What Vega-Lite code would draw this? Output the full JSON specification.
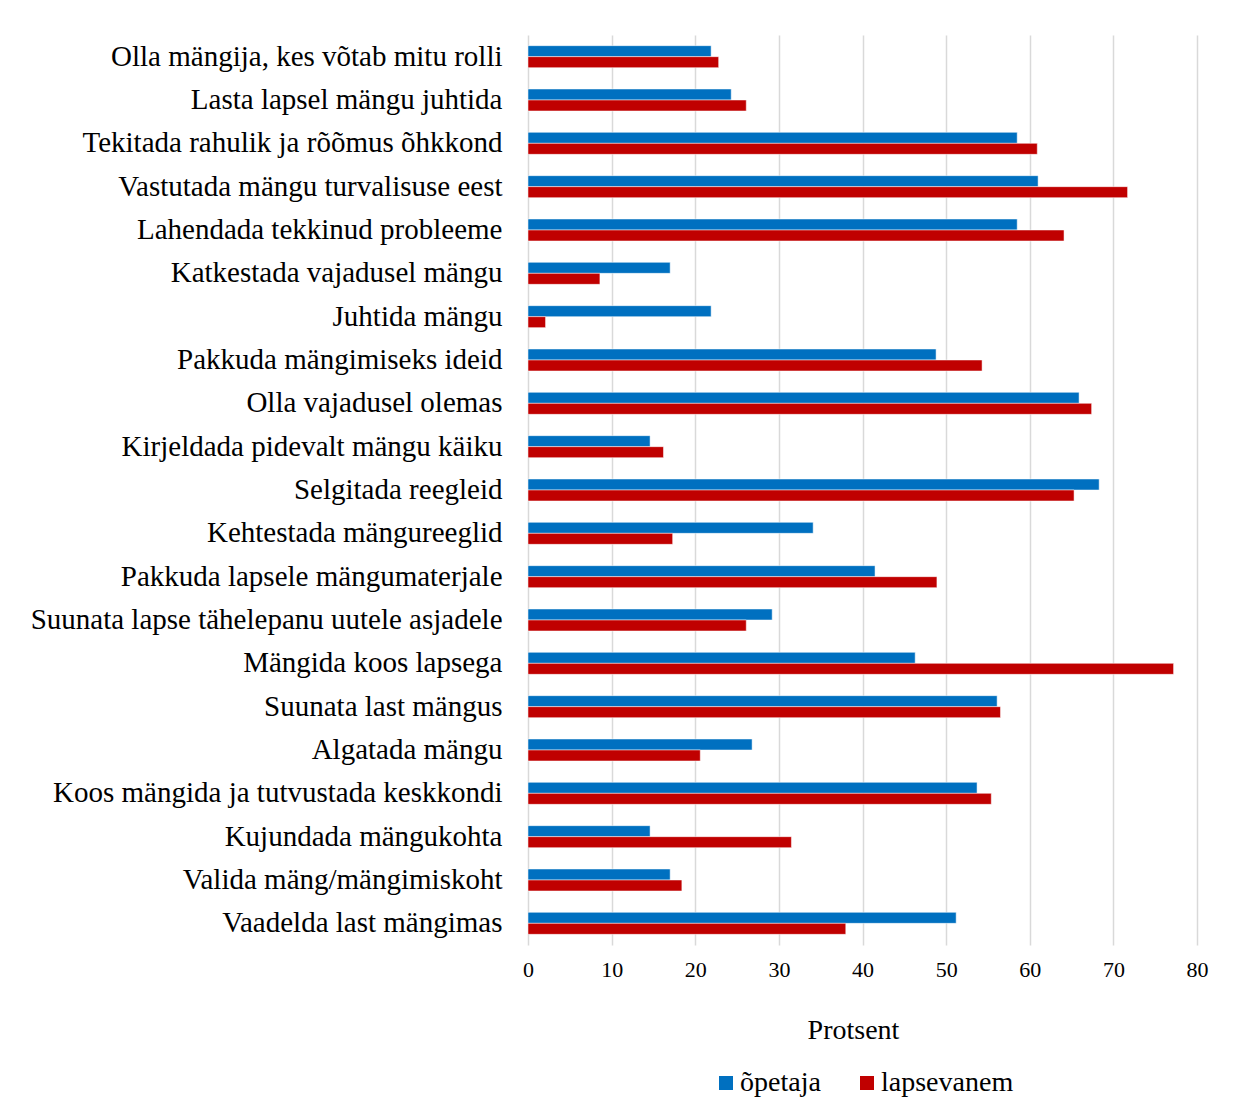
{
  "$schema": "https://vega.github.io/schema/vega-lite/v6.json",
  "width": 669,
  "height": 910,
  "padding": {"left": 30, "top": 35, "right": 40, "bottom": 10},
  "autosize": {"type": "pad"},
  "background": "white",
  "config": {
    "font": "Liberation Serif",
    "view": {"stroke": null}
  },
  "data": {
    "values": [
      {"k": "Olla mängija, kes võtab mitu rolli", "g": "õpetaja", "v": 21.9},
      {"k": "Olla mängija, kes võtab mitu rolli", "g": "lapsevanem", "v": 22.8},
      {"k": "Lasta lapsel mängu juhtida", "g": "õpetaja", "v": 24.3},
      {"k": "Lasta lapsel mängu juhtida", "g": "lapsevanem", "v": 26.1},
      {"k": "Tekitada rahulik ja rõõmus õhkkond", "g": "õpetaja", "v": 58.5},
      {"k": "Tekitada rahulik ja rõõmus õhkkond", "g": "lapsevanem", "v": 60.9},
      {"k": "Vastutada mängu turvalisuse eest", "g": "õpetaja", "v": 61.0},
      {"k": "Vastutada mängu turvalisuse eest", "g": "lapsevanem", "v": 71.7},
      {"k": "Lahendada tekkinud probleeme", "g": "õpetaja", "v": 58.5},
      {"k": "Lahendada tekkinud probleeme", "g": "lapsevanem", "v": 64.1},
      {"k": "Katkestada vajadusel mängu", "g": "õpetaja", "v": 17.0},
      {"k": "Katkestada vajadusel mängu", "g": "lapsevanem", "v": 8.6},
      {"k": "Juhtida mängu", "g": "õpetaja", "v": 21.9},
      {"k": "Juhtida mängu", "g": "lapsevanem", "v": 2.1},
      {"k": "Pakkuda mängimiseks ideid", "g": "õpetaja", "v": 48.8},
      {"k": "Pakkuda mängimiseks ideid", "g": "lapsevanem", "v": 54.3},
      {"k": "Olla vajadusel olemas", "g": "õpetaja", "v": 65.9},
      {"k": "Olla vajadusel olemas", "g": "lapsevanem", "v": 67.4},
      {"k": "Kirjeldada pidevalt mängu käiku", "g": "õpetaja", "v": 14.6},
      {"k": "Kirjeldada pidevalt mängu käiku", "g": "lapsevanem", "v": 16.2},
      {"k": "Selgitada reegleid", "g": "õpetaja", "v": 68.3},
      {"k": "Selgitada reegleid", "g": "lapsevanem", "v": 65.3},
      {"k": "Kehtestada mängureeglid", "g": "õpetaja", "v": 34.1},
      {"k": "Kehtestada mängureeglid", "g": "lapsevanem", "v": 17.3},
      {"k": "Pakkuda lapsele mängumaterjale", "g": "õpetaja", "v": 41.5},
      {"k": "Pakkuda lapsele mängumaterjale", "g": "lapsevanem", "v": 48.9},
      {"k": "Suunata lapse tähelepanu uutele asjadele", "g": "õpetaja", "v": 29.2},
      {"k": "Suunata lapse tähelepanu uutele asjadele", "g": "lapsevanem", "v": 26.1},
      {"k": "Mängida koos lapsega", "g": "õpetaja", "v": 46.3},
      {"k": "Mängida koos lapsega", "g": "lapsevanem", "v": 77.2},
      {"k": "Suunata last mängus", "g": "õpetaja", "v": 56.1},
      {"k": "Suunata last mängus", "g": "lapsevanem", "v": 56.5},
      {"k": "Algatada mängu", "g": "õpetaja", "v": 26.8},
      {"k": "Algatada mängu", "g": "lapsevanem", "v": 20.6},
      {"k": "Koos mängida ja tutvustada keskkondi", "g": "õpetaja", "v": 53.7},
      {"k": "Koos mängida ja tutvustada keskkondi", "g": "lapsevanem", "v": 55.4},
      {"k": "Kujundada mängukohta", "g": "õpetaja", "v": 14.6},
      {"k": "Kujundada mängukohta", "g": "lapsevanem", "v": 31.5},
      {"k": "Valida mäng/mängimiskoht", "g": "õpetaja", "v": 17.0},
      {"k": "Valida mäng/mängimiskoht", "g": "lapsevanem", "v": 18.4},
      {"k": "Vaadelda last mängimas", "g": "õpetaja", "v": 51.2},
      {"k": "Vaadelda last mängimas", "g": "lapsevanem", "v": 38.0}
    ]
  },
  "mark": {"type": "bar", "stroke": "white", "strokeWidth": 0.5},
  "encoding": {
    "y": {
      "field": "k",
      "type": "nominal",
      "sort": null,
      "scale": {"paddingInner": 0, "paddingOuter": 0},
      "axis": {
        "title": null,
        "domain": false,
        "ticks": false,
        "labelFontSize": 29,
        "labelColor": "#000000",
        "labelPadding": 26,
        "labelLimit": 700
      }
    },
    "yOffset": {
      "field": "g",
      "type": "nominal",
      "sort": ["õpetaja", "lapsevanem"],
      "scale": {"paddingInner": 0, "paddingOuter": 0.97}
    },
    "x": {
      "field": "v",
      "type": "quantitative",
      "scale": {"domain": [0, 80], "nice": false},
      "axis": {
        "title": "Protsent",
        "titleFontSize": 28,
        "titleFontWeight": "normal",
        "titleColor": "#000000",
        "titlePadding": 36,
        "titleX": 325,
        "values": [0, 10, 20, 30, 40, 50, 60, 70, 80],
        "domain": false,
        "ticks": false,
        "grid": true,
        "gridColor": "#d9d9d9",
        "gridWidth": 1.5,
        "labelFontSize": 22,
        "labelColor": "#000000",
        "labelPadding": 14,
        "labelFlush": false
      }
    },
    "color": {
      "field": "g",
      "type": "nominal",
      "sort": ["õpetaja", "lapsevanem"],
      "scale": {"domain": ["õpetaja", "lapsevanem"], "range": ["#0070C0", "#C00000"]},
      "legend": {
        "title": null,
        "orient": "none",
        "legendX": 184,
        "legendY": 1034,
        "direction": "horizontal",
        "symbolType": "square",
        "symbolSize": 196,
        "symbolStrokeWidth": 0,
        "labelFontSize": 28,
        "labelColor": "#000000",
        "labelOffset": 0,
        "columnPadding": 32
      }
    }
  }
}
